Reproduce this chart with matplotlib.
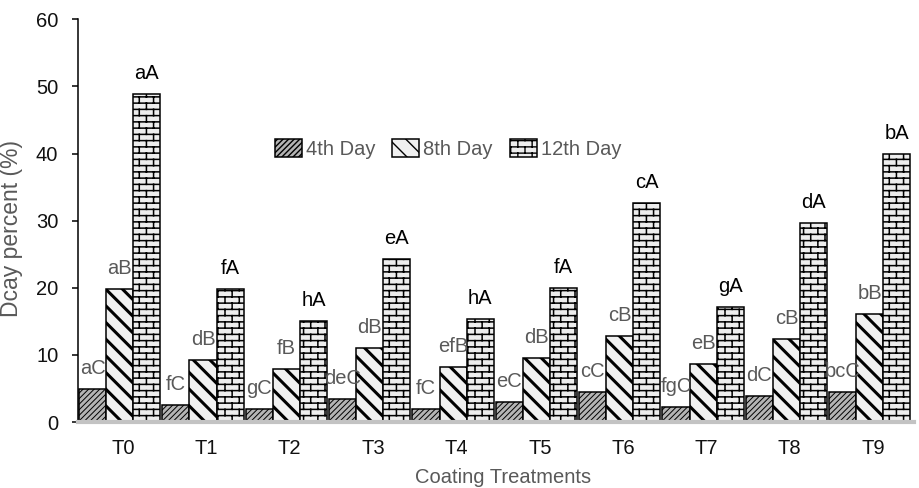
import matplotlib
matplotlib.use('Agg')
import matplotlib.pyplot as plt
import matplotlib.hatch as mhatch
from matplotlib.path import Path
import numpy as np

# ---------------- data ----------------
categories = ['T0', 'T1', 'T2', 'T3', 'T4', 'T5', 'T6', 'T7', 'T8', 'T9']
series_names = ['4th Day', '8th Day', '12th Day']
day4 = [4.9, 2.6, 2.0, 3.4, 2.0, 3.0, 4.4, 2.2, 3.8, 4.5]
day8 = [19.8, 9.2, 7.9, 11.0, 8.2, 9.6, 12.8, 8.7, 12.4, 16.1]
day12 = [48.8, 19.8, 15.1, 24.3, 15.4, 20.0, 32.7, 17.1, 29.6, 39.9]
labels4 = ['aC', 'fC', 'gC', 'deC', 'fC', 'eC', 'cC', 'fgC', 'dC', 'bcC']
labels8 = ['aB', 'dB', 'fB', 'dB', 'efB', 'dB', 'cB', 'eB', 'cB', 'bB']
labels12 = ['aA', 'fA', 'hA', 'eA', 'hA', 'fA', 'cA', 'gA', 'dA', 'bA']
yticks = [0, 10, 20, 30, 40, 50, 60]


# ---------------- custom brick hatch ----------------
class BrickHatch(mhatch.HatchPatternBase):
    def __init__(self, hatch, density):
        self.rows = hatch.count('B') * 16
        self.cols = 7
        if self.rows:
            self.num_lines = self.rows + self.cols * (self.rows + 1)
        else:
            self.num_lines = 0
        self.num_vertices = self.num_lines * 2

    def set_vertices_and_codes(self, vertices, codes):
        if self.rows == 0:
            return
        h = 1.0 / self.rows
        k = 0
        for i in range(self.rows):
            y = (i + 0.5) * h
            vertices[k] = (0.0, y)
            vertices[k + 1] = (1.0, y)
            k += 2
        for i in range(-1, self.rows):
            y0 = (i + 0.5) * h
            off = 0.5 * (i % 2)
            for j in range(self.cols):
                x = (j + 0.25 + off) / self.cols
                vertices[k] = (x, y0)
                vertices[k + 1] = (x, y0 + h)
                k += 2
        codes[0::2] = Path.MOVETO
        codes[1::2] = Path.LINETO


_orig_validate = mhatch._validate_hatch_pattern


def _validate(h):
    if h is not None:
        h = h.replace('B', '')
    return _orig_validate(h)


mhatch._validate_hatch_pattern = _validate
mhatch._hatch_types.append(BrickHatch)

# ---------------- style ----------------
plt.rcParams['font.family'] = ['Liberation Sans', 'DejaVu Sans']
FS = 14.5
GREY_TXT = '#595959'

fig = plt.figure(figsize=(9.19, 4.88), dpi=100)
W, H = 919, 488
x0, x1 = 77.5, 914
y0, y1 = 422, 19.3
ax = fig.add_axes([x0 / W, 1 - y0 / H, (x1 - x0) / W, (y0 - y1) / H])

n = len(categories)
x = np.arange(n)
bw = 0.325
shift = -0.04

styles = [
    dict(face='#b4b4b4', hatch='//////', hlw=0.7),
    dict(face='#f0f0f0', hatch='\\\\', hlw=2.2),
    dict(face='#ededed', hatch='B', hlw=1.1),
]
series = [day4, day8, day12]
labsets = [labels4, labels8, labels12]
lab_colors = [GREY_TXT, GREY_TXT, '#000000']

for k, (vals, st, labs, lc, name) in enumerate(zip(series, styles, labsets, lab_colors, series_names)):
    pos = x + shift + (k - 1) * bw
    with plt.rc_context({'hatch.linewidth': st['hlw'], 'hatch.color': 'black'}):
        bars = ax.bar(pos, vals, width=bw, color=st['face'], edgecolor='black',
                      linewidth=1.1, hatch=st['hatch'], label=name, zorder=1)
        for b in bars:
            try:
                b.set_hatch_linewidth(st['hlw'])
            except AttributeError:
                pass
    for p, v, t in zip(pos, vals, labs):
        ax.annotate(t, xy=(p, v), xytext=(0, 10.8), textcoords='offset points',
                    ha='center', va='baseline', fontsize=FS, color=lc)

ax.set_xlim(-0.546, 9.49)
ax.set_ylim(0, 60)
ax.set_yticks(yticks)
ax.set_xticks(x)
ax.set_xticklabels(categories)

for s in ['top', 'right']:
    ax.spines[s].set_visible(False)
ax.spines['left'].set_color('black')
ax.spines['left'].set_linewidth(1.1)
ax.spines['bottom'].set_color('#c3c3c3')
ax.spines['bottom'].set_linewidth(3)

ax.tick_params(axis='y', direction='out', length=4.3, width=1.1, pad=9.5,
               labelsize=FS, labelcolor='#111111', color='black')
ax.tick_params(axis='x', length=0, pad=12, labelsize=FS, labelcolor='#111111')

ax.set_xlabel('Coating Treatments', fontsize=FS, color=GREY_TXT)
ax.xaxis.set_label_coords((503.5 - x0) / (x1 - x0), -(483 - y0) / (y0 - y1))
ax.xaxis.label.set_va('baseline')

fig.text(12 / W, 1 - 229 / H, 'Dcay percent (%)', rotation=90, ha='center', va='center',
         fontsize=16.5, color=GREY_TXT)

leg = ax.legend(loc='center', bbox_to_anchor=(448 / W, 1 - 148.8 / H),
                bbox_transform=fig.transFigure, ncol=3, frameon=False,
                fontsize=FS, handlelength=1.35, handleheight=1.05,
                handletextpad=0.2, columnspacing=0.84, borderpad=0,
                borderaxespad=0)
for t in leg.get_texts():
    t.set_color(GREY_TXT)

fig.savefig('out.png', dpi=100)
